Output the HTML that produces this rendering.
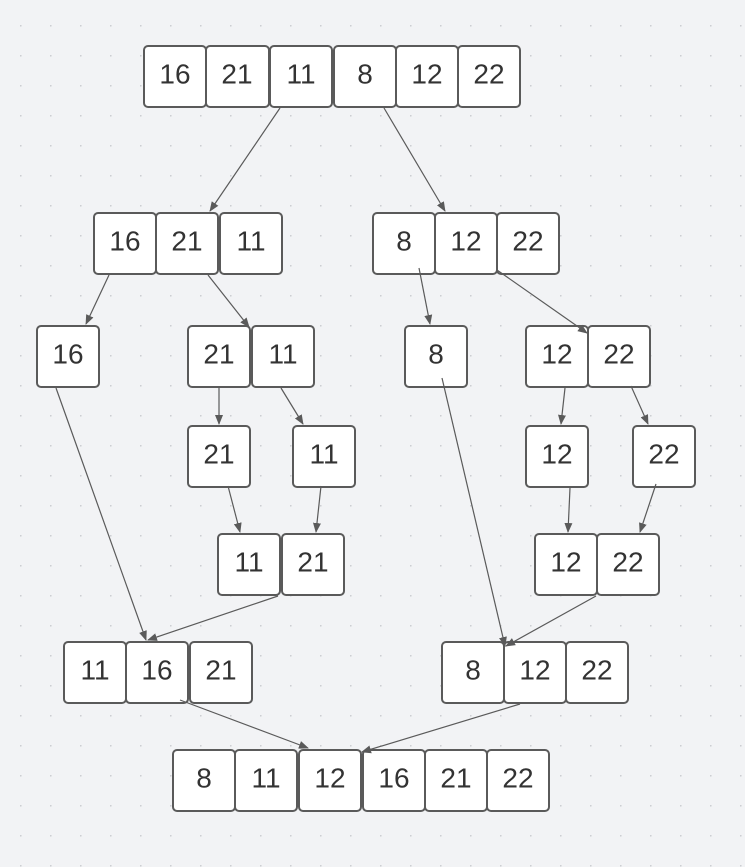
<!DOCTYPE html>
<html><head><style>
html,body{margin:0;padding:0;background:#f2f3f5;}
svg{display:block}
text{font-family:"Liberation Sans",sans-serif;font-size:28px;fill:#333;text-anchor:middle;dominant-baseline:central}
rect{fill:#fff;stroke:#5a5a5a;stroke-width:2}
line{stroke:#5a5a5a;stroke-width:1.2;marker-end:url(#a)}
</style></head><body>
<svg width="745" height="867" xmlns="http://www.w3.org/2000/svg">
<defs>
<pattern id="g" x="20" y="25" width="30" height="30" patternUnits="userSpaceOnUse"><circle cx="0.8" cy="0.8" r="0.8" fill="#c4c6ca"/></pattern>
<marker id="a" markerWidth="10" markerHeight="10" refX="9" refY="5" orient="auto" markerUnits="userSpaceOnUse"><path d="M0,1 L10,5 L0,9 z" fill="#5a5a5a"/></marker>
</defs>
<rect x="0" y="0" width="745" height="867" style="fill:url(#g);stroke:none"/>
<g>
<rect x="144" y="46" width="62" height="61" rx="4"/><text x="175" y="74">16</text>
<rect x="206" y="46" width="63" height="61" rx="4"/><text x="237" y="74">21</text>
<rect x="270" y="46" width="62" height="61" rx="4"/><text x="301" y="74">11</text>
<rect x="334" y="46" width="62" height="61" rx="4"/><text x="365" y="74">8</text>
<rect x="396" y="46" width="62" height="61" rx="4"/><text x="427" y="74">12</text>
<rect x="458" y="46" width="62" height="61" rx="4"/><text x="489" y="74">22</text>

<rect x="94" y="213" width="62" height="61" rx="4"/><text x="125" y="241">16</text>
<rect x="156" y="213" width="62" height="61" rx="4"/><text x="187" y="241">21</text>
<rect x="220" y="213" width="62" height="61" rx="4"/><text x="251" y="241">11</text>
<rect x="373" y="213" width="62" height="61" rx="4"/><text x="404" y="241">8</text>
<rect x="435" y="213" width="62" height="61" rx="4"/><text x="466" y="241">12</text>
<rect x="497" y="213" width="62" height="61" rx="4"/><text x="528" y="241">22</text>

<rect x="37" y="326" width="62" height="61" rx="4"/><text x="68" y="354">16</text>
<rect x="188" y="326" width="62" height="61" rx="4"/><text x="219" y="354">21</text>
<rect x="252" y="326" width="62" height="61" rx="4"/><text x="283" y="354">11</text>
<rect x="405" y="326" width="62" height="61" rx="4"/><text x="436" y="354">8</text>
<rect x="526" y="326" width="62" height="61" rx="4"/><text x="557" y="354">12</text>
<rect x="588" y="326" width="62" height="61" rx="4"/><text x="619" y="354">22</text>

<rect x="188" y="426" width="62" height="61" rx="4"/><text x="219" y="454">21</text>
<rect x="293" y="426" width="62" height="61" rx="4"/><text x="324" y="454">11</text>
<rect x="526" y="426" width="62" height="61" rx="4"/><text x="557" y="454">12</text>
<rect x="633" y="426" width="62" height="61" rx="4"/><text x="664" y="454">22</text>

<rect x="218" y="534" width="62" height="61" rx="4"/><text x="249" y="562">11</text>
<rect x="282" y="534" width="62" height="61" rx="4"/><text x="313" y="562">21</text>
<rect x="535" y="534" width="62" height="61" rx="4"/><text x="566" y="562">12</text>
<rect x="597" y="534" width="62" height="61" rx="4"/><text x="628" y="562">22</text>

<rect x="64" y="642" width="62" height="61" rx="4"/><text x="95" y="670">11</text>
<rect x="126" y="642" width="62" height="61" rx="4"/><text x="157" y="670">16</text>
<rect x="190" y="642" width="62" height="61" rx="4"/><text x="221" y="670">21</text>
<rect x="442" y="642" width="62" height="61" rx="4"/><text x="473" y="670">8</text>
<rect x="504" y="642" width="62" height="61" rx="4"/><text x="535" y="670">12</text>
<rect x="566" y="642" width="62" height="61" rx="4"/><text x="597" y="670">22</text>

<rect x="173" y="750" width="62" height="61" rx="4"/><text x="204" y="778">8</text>
<rect x="235" y="750" width="62" height="61" rx="4"/><text x="266" y="778">11</text>
<rect x="299" y="750" width="62" height="61" rx="4"/><text x="330" y="778">12</text>
<rect x="363" y="750" width="62" height="61" rx="4"/><text x="394" y="778">16</text>
<rect x="425" y="750" width="62" height="61" rx="4"/><text x="456" y="778">21</text>
<rect x="487" y="750" width="62" height="61" rx="4"/><text x="518" y="778">22</text>
</g>
<g>
<line x1="280" y1="108" x2="210" y2="211"/>
<line x1="384" y1="108" x2="445" y2="211"/>
<line x1="109" y1="275" x2="86" y2="324"/>
<line x1="208" y1="275" x2="249" y2="327"/>
<line x1="497" y1="270" x2="587" y2="333"/>
<line x1="419" y1="268" x2="430" y2="324"/>
<line x1="219" y1="388" x2="219" y2="424"/>
<line x1="281" y1="388" x2="303" y2="424"/>
<line x1="565" y1="388" x2="561" y2="424"/>
<line x1="631" y1="386" x2="648" y2="424"/>
<line x1="228" y1="486" x2="240" y2="532"/>
<line x1="321" y1="486" x2="316" y2="532"/>
<line x1="570" y1="488" x2="568" y2="532"/>
<line x1="656" y1="484" x2="640" y2="532"/>
<line x1="56" y1="388" x2="146" y2="640"/>
<line x1="278" y1="596" x2="148" y2="640"/>
<line x1="442" y1="378" x2="505" y2="646"/>
<line x1="596" y1="596" x2="506" y2="646"/>
<line x1="180" y1="700" x2="308" y2="748"/>
<line x1="520" y1="704" x2="362" y2="752"/>
</g>
</svg>
</body></html>
